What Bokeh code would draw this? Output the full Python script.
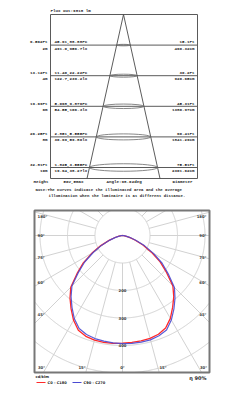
import numpy as np
from bokeh.plotting import figure
from bokeh.models import Range1d
from bokeh.embed import file_html
from bokeh.resources import INLINE
from bokeh.core.properties import value

# ---------------- data ----------------
flux_text = "Flux out:9818 lm"
heights_m = [2, 4, 6, 8, 10]
heights_ft = ["6.562Ft", "13.12Ft", "19.69Ft", "26.25Ft", "32.81Ft"]
height_lbl = ["2m", "4m", "6m", "8m", "10m"]
illum_fc = ["45.61,88.88Fc", "11.40,22.22Fc", "5.068,9.876Fc", "2.851,5.555Fc", "1.825,3.555Fc"]
illum_lx = ["491.0,956.7lx", "122.7,239.2lx", "54.55,106.3lx", "30.69,59.80lx", "19.64,38.27lx"]
diam_ft = ["15.1Ft", "30.2Ft", "45.31Ft", "60.41Ft", "75.51Ft"]
diam_cm = ["460.32cm", "920.65cm", "1380.97cm", "1841.29cm", "2301.62cm"]
footer = ["Height", "Eav,Emax", "Angle:98.02deg", "Diameter"]
note = ["Note:The Curves indicate the illuminated area and the average",
        "illumination when the luminaire is at different distance."]

gamma = [0, 5, 10, 15, 20, 25, 30, 35, 40, 45, 50, 55, 60, 65, 70, 75, 80, 85, 90]
red_c180 = [391, 394, 395, 394, 390, 380, 356, 326, 297, 266, 216, 174, 128, 87, 52, 28, 13, 4, 0]
red_c0 = [391, 390, 389, 387, 382, 371, 348, 318, 290, 259, 209, 167, 121, 82, 48, 26, 11, 4, 0]
blue_c90 = [393, 394, 394, 393, 388, 379, 355, 326, 297, 267, 217, 176, 130, 89, 53, 29, 13, 5, 0]
blue_c270 = [393, 392, 390, 388, 383, 373, 350, 320, 291, 260, 210, 168, 122, 83, 49, 26, 12, 4, 0]
rings = [100, 200, 300, 400, 500]
ring_labels = [200, 300, 400]
side_angles = [90, 75, 60, 45]
bottom_angles = [30, 15, 0, 15, 30]
legend_names = ["C0 - C180", "C90 - C270"]
unit_text = "cd/klm"
eff_text = "η 90%"

# ---------------- layout ----------------
W, H = 242, 395
p = figure(width=W, height=H, output_backend="svg", toolbar_location=None,
           x_range=Range1d(0, W), y_range=Range1d(H, 0),
           x_axis_location=None, y_axis_location=None, min_border=0)
p.grid.visible = False
p.outline_line_color = None
p.background_fill_color = "white"

MONO = value("Liberation Mono")
SANS = value("DejaVu Sans")
TXT = "#1e1e1e"
BOLD = "bold"

# top cone section
Y0, PXM = 14.0, 15.3
BL, BR, BB = 50, 197, 178
AX = 123
HW = 36.5 / 164.0  # half-width per px of drop


def ym(h):
    return Y0 + h * PXM


row_y = [ym(h) for h in heights_m]

p.text([BL], [Y0 - 2], text=[flux_text], text_font=MONO, text_font_size="4.2px",
       text_font_style=BOLD, text_color=TXT, text_baseline="bottom", text_align="left")
# box
p.segment(x0=[BL, BL, BR, BL], y0=[Y0, Y0, Y0, BB], x1=[BR, BL, BR, BR], y1=[Y0, BB, BB, BB],
          line_color="#5a5a5a", line_width=1)
# row lines
p.segment(x0=[BL] * 5, y0=row_y, x1=[BR] * 5, y1=row_y, line_color="#5a5a5a", line_width=1)
# cone
p.segment(x0=[AX, AX], y0=[Y0, Y0], x1=[AX - (BB - Y0) * HW, AX + (BB - Y0) * HW], y1=[BB, BB],
          line_color="#4a4a4a", line_width=0.9)
ew = [2 * (y - Y0) * HW for y in row_y]
p.ellipse(x=[AX] * 5, y=row_y, width=ew, height=[w * 0.11 for w in ew],
          fill_color=None, line_color="#6a6a6a", line_width=0.8)

fs = "4.2px"
common = dict(text_font=MONO, text_font_size=fs, text_color=TXT, text_font_style=BOLD)
p.text([47] * 5, [y - 0.8 for y in row_y], text=heights_ft, text_align="right", text_baseline="bottom", **common)
p.text([47] * 5, [y + 1.5 for y in row_y], text=height_lbl, text_align="right", text_baseline="top", **common)
p.text([54] * 5, [y - 0.8 for y in row_y], text=illum_fc, text_align="left", text_baseline="bottom", **common)
p.text([54] * 5, [y + 1.5 for y in row_y], text=illum_lx, text_align="left", text_baseline="top", **common)
p.text([194] * 5, [y - 0.8 for y in row_y], text=diam_ft, text_align="right", text_baseline="bottom", **common)
p.text([194] * 5, [y + 1.5 for y in row_y], text=diam_cm, text_align="right", text_baseline="top", **common)

p.text([33, 63, 106, 172], [181.5] * 4, text=footer, text_align="left", text_baseline="middle", **common)
p.text([35, 48], [189.5, 195.5], text=note, text_font=MONO, text_font_size="4.0px",
       text_font_style=BOLD, text_color=TXT, text_align="left", text_baseline="middle")

# polar section
CX, CY, SC = 122.0, 235.0, 0.275
PL, PR, PT, PB = 34, 209, 210, 372
GRID = "#d2d2d2"


def inside(x, y):
    return (x >= PL) & (x <= PR) & (y >= PT) & (y <= PB)


t = np.linspace(0, 2 * np.pi, 721)
for rv in rings:
    r = rv * SC
    xs = CX + r * np.sin(t)
    ys = CY + r * np.cos(t)
    m = inside(xs, ys)
    xs = np.where(m, xs, np.nan)
    ys = np.where(m, ys, np.nan)
    p.line(xs, ys, line_color=GRID, line_width=1)

r0 = rings[0] * SC
rx0, ry0, rx1, ry1 = [], [], [], []
for a in range(0, 360, 15):
    s, c = np.sin(np.radians(a)), np.cos(np.radians(a))
    ds = []
    if s > 1e-9:
        ds.append((PR - CX) / s)
    if s < -1e-9:
        ds.append((PL - CX) / s)
    if c > 1e-9:
        ds.append((PB - CY) / c)
    if c < -1e-9:
        ds.append((PT - CY) / c)
    re = min(ds)
    if re > r0:
        rx0.append(CX + r0 * s); ry0.append(CY + r0 * c)
        rx1.append(CX + re * s); ry1.append(CY + re * c)
p.segment(rx0, ry0, rx1, ry1, line_color=GRID, line_width=1)


def curve(left, right):
    xs, ys = [], []
    for g, v in zip(gamma[::-1], left[::-1]):
        xs.append(CX - v * SC * np.sin(np.radians(g)))
        ys.append(CY + v * SC * np.cos(np.radians(g)))
    for g, v in zip(gamma, right):
        xs.append(CX + v * SC * np.sin(np.radians(g)))
        ys.append(CY + v * SC * np.cos(np.radians(g)))
    return xs, ys


RED, BLUE = "#ff2a2a", "#4a4ad2"
bx, by = curve(blue_c270, blue_c90)
rx, ry = curve(red_c180, red_c0)
p.line(rx, ry, line_color=RED, line_width=1.3)
p.line(bx, by, line_color=BLUE, line_width=1.2, line_alpha=0.9)

# ring labels
p.text([CX] * 3, [CY + v * SC for v in ring_labels], text=[str(v) for v in ring_labels],
       text_font=SANS, text_font_size="3.8px", text_color="#3a3a3a", text_font_style=BOLD,
       text_align="center", text_baseline="middle")

# angle labels
LBL = "#3a3a3a"
xin = 41.0
ly, lt = [], []
for a in side_angles:
    ly.append(CY + (CX - xin) / np.tan(np.radians(a)) - (2 if a == 45 else 0))
    lt.append(f"{a}°")
ly.append(216)
lt.append("180°")
lab = dict(text_font=SANS, text_font_size="3.8px", text_color=LBL, text_font_style=BOLD,
           text_baseline="middle")
p.text([37] * len(ly), ly, text=lt, text_align="left", **lab)
p.text([206] * len(ly), ly, text=lt, text_align="right", **lab)
bxs = [CX + k * 40.5 for k in (-2, -1, 0, 1, 2)]
p.text(bxs, [367] * 5, text=[f"{a}°" for a in bottom_angles], text_align="center", **lab)

# frame
p.quad(left=[PL], right=[PR], top=[PT], bottom=[PB], fill_color=None,
       line_color="#777777", line_width=2)

# legend
p.text([35], [376], text=[unit_text], text_font=SANS, text_font_size="3.6px", text_color=TXT,
       text_font_style=BOLD, text_align="left", text_baseline="middle")
p.segment([36, 72], [382, 382], [45, 81], [382, 382], line_color=[RED, BLUE], line_width=1)
p.text([47, 83], [382, 382], text=legend_names, text_font=SANS, text_font_size="3.6px",
       text_font_style=BOLD, text_color=TXT, text_align="left", text_baseline="middle")
p.text([206], [377], text=[eff_text], text_font=SANS, text_font_size="5px", text_color=TXT,
       text_font_style="bold", text_align="right", text_baseline="middle")

open("out.html", "w").write(file_html(p, INLINE))
